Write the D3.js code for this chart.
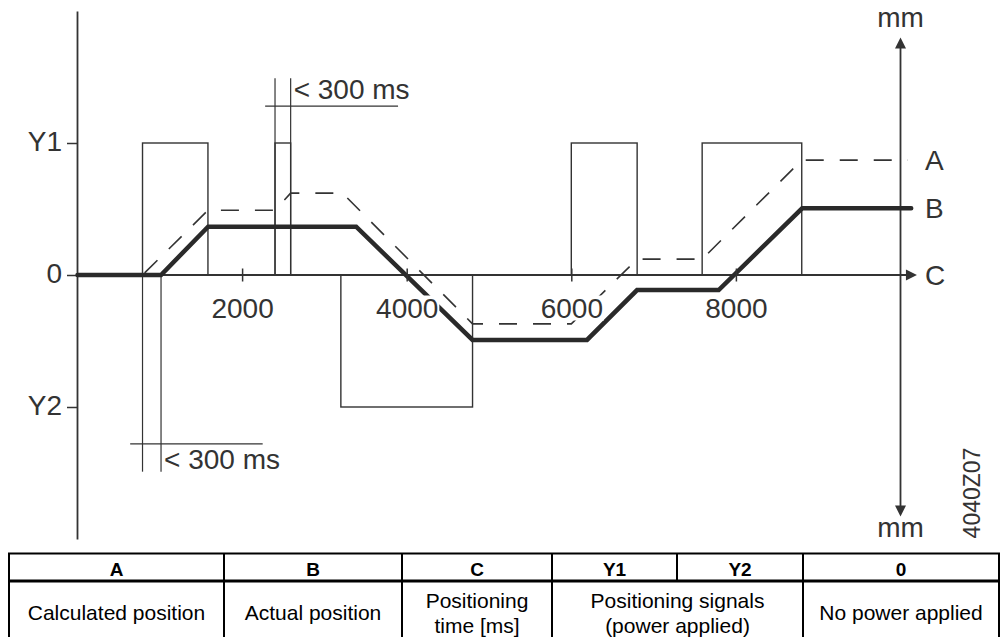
<!DOCTYPE html>
<html>
<head>
<meta charset="utf-8">
<script src="https://cdn.jsdelivr.net/npm/d3@7"></script>
<style>
  html, body { margin: 0; padding: 0; background: #fff; }
  svg { display: block; font-family: "Liberation Sans", Arial, sans-serif; }
</style>
</head>
<body>
<script>
// time axis (ms) and levels on the vertical axis
const timeTicks = [2000, 4000, 6000, 8000];
const levelTicks = [1, 0, -1];
const levelLabels = ["Y1", "0", "Y2"];

// positioning signal pulses (ms), level +1 = Y1, -1 = Y2
const pulseStart = [790, 2400, 3200, 6000, 7590];
const pulseEnd = [1585, 2590, 4800, 6800, 8800];
const pulseLevel = [1, 1, -1, 1, 1];

// A: calculated position (dashed)
const calcTime = [0, 790, 1585, 2400, 2590, 3220, 4800, 6000, 6800, 7590, 8800, 10090];
const calcPos = [0, 0, 0.49, 0.49, 0.62, 0.62, -0.37, -0.37, 0.12, 0.12, 0.87, 0.87];

// B: actual position (thick)
const actTime = [0, 1015, 1587, 3386, 4800, 6191, 6799, 7791, 8805, 10130];
const actPos = [0, 0, 0.366, 0.366, -0.492, -0.492, -0.114, -0.114, 0.505, 0.505];

// "< 300 ms" delay markers
const delayFrom = [790, 2400];
const delayTo = [1015, 2590];
const delayReach = [-1.49, 1.49];
const delayRule = [-1.28, 1.28];
const delayRuleFrom = [640, 2280];
const delayRuleTo = [2250, 3895];
const delayText = ["< 300 ms", "< 300 ms"];

// curve labels on the right
const curveNames = ["A", "B", "C"];
const curveLevels = [0.87, 0.505, 0];

// legend table
const tableKeys = ["A", "B", "C", "Y1", "Y2", "0"];
const tableTexts = [["Calculated position"], ["Actual position"], ["Positioning", "time [ms]"],
  ["Positioning signals", "(power applied)"], ["No power applied"]];
const tableSpans = [1, 1, 1, 2, 1];

const width = 1002, height = 637;
const ink = "#333", thick = "#2a2a2a";

const x = d3.scaleLinear().domain([0, 10000]).range([77.5, 900.5]);
const y = d3.scaleLinear().domain([-2, 2]).range([539, 11]);

const svg = d3.select("body").append("svg")
  .attr("width", width)
  .attr("height", height);

// pulses
svg.append("g")
  .selectAll("rect")
  .data(pulseStart)
  .join("rect")
  .attr("x", (d, i) => x(d))
  .attr("width", (d, i) => x(pulseEnd[i]) - x(d))
  .attr("y", (d, i) => Math.min(y(pulseLevel[i]), y(0)))
  .attr("height", (d, i) => Math.abs(y(pulseLevel[i]) - y(0)))
  .attr("fill", "none")
  .attr("stroke", ink)
  .attr("stroke-width", 1.4);

// delay markers
const marks = svg.append("g").attr("stroke", ink).attr("stroke-width", 1.2);
delayFrom.forEach((d, i) => {
  [d, delayTo[i]].forEach(t => {
    marks.append("line")
      .attr("x1", x(t)).attr("x2", x(t))
      .attr("y1", y(0)).attr("y2", y(delayReach[i]));
  });
  marks.append("line")
    .attr("x1", x(delayRuleFrom[i])).attr("x2", x(delayRuleTo[i]))
    .attr("y1", y(delayRule[i])).attr("y2", y(delayRule[i]));
  svg.append("text")
    .attr("x", x(delayTo[i]) + 3)
    .attr("y", y(delayRule[i]) + (delayReach[i] > 0 ? -7 : 25))
    .attr("font-size", 28)
    .attr("fill", ink)
    .text(delayText[i]);
});

// left axis
const gy = svg.append("g")
  .attr("transform", `translate(${x(0) - 0.5},0)`)
  .call(d3.axisLeft(y).tickValues(levelTicks)
    .tickFormat((d, i) => levelLabels[i])
    .tickSizeInner(10).tickSizeOuter(0).tickPadding(5));
gy.select(".domain").attr("stroke", ink).attr("stroke-width", 1.8);
gy.selectAll(".tick line").attr("stroke", ink).attr("stroke-width", 1.5);
gy.selectAll(".tick text")
  .attr("font-size", 28)
  .attr("font-family", "Liberation Sans, Arial, sans-serif")
  .attr("fill", ink)
  .attr("dy", "0.27em");

// time axis line with arrow
const axisY = y(0);
const cTip = x(10200);
svg.append("line")
  .attr("x1", x(0)).attr("x2", cTip - 8)
  .attr("y1", axisY).attr("y2", axisY)
  .attr("stroke", ink).attr("stroke-width", 1.8);
svg.append("path")
  .attr("d", `M${cTip},${axisY}L${cTip - 11},${axisY - 5.5}L${cTip - 11},${axisY + 5.5}Z`)
  .attr("fill", ink);

// right position axis (mm) with two arrows
const rx = x(10000);
const topTip = y(1.8), botTip = y(-1.83);
svg.append("line")
  .attr("x1", rx).attr("x2", rx)
  .attr("y1", topTip + 8).attr("y2", botTip - 8)
  .attr("stroke", ink).attr("stroke-width", 1.8);
svg.append("path")
  .attr("d", `M${rx},${topTip}L${rx - 5.5},${topTip + 11}L${rx + 5.5},${topTip + 11}Z`)
  .attr("fill", ink);
svg.append("path")
  .attr("d", `M${rx},${botTip}L${rx - 5.5},${botTip - 11}L${rx + 5.5},${botTip - 11}Z`)
  .attr("fill", ink);
svg.append("text").attr("x", rx).attr("y", topTip - 10)
  .attr("text-anchor", "middle").attr("font-size", 28).attr("fill", ink).text("mm");
svg.append("text").attr("x", rx).attr("y", botTip + 20)
  .attr("text-anchor", "middle").attr("font-size", 28).attr("fill", ink).text("mm");

// A: calculated position
const line = d3.line().x(d => x(d[0])).y(d => y(d[1]));
svg.append("path")
  .attr("d", line(calcTime.map((t, i) => [t, calcPos[i]])))
  .attr("fill", "none")
  .attr("stroke", ink)
  .attr("stroke-width", 1.6)
  .attr("stroke-dasharray", "18,16");

// B: actual position
svg.append("path")
  .attr("d", line(actTime.map((t, i) => [t, actPos[i]])))
  .attr("fill", "none")
  .attr("stroke", thick)
  .attr("stroke-width", 4.5)
  .attr("stroke-linecap", "round");

// time ticks and labels (white boxes behind the numbers)
const gx = svg.append("g")
  .attr("transform", `translate(0,${axisY - 0.5})`)
  .call(d3.axisBottom(x).tickValues(timeTicks).tickFormat(d3.format("d"))
    .tickSizeInner(7).tickSizeOuter(0));
gx.select(".domain").remove();
gx.selectAll(".tick line").attr("y1", -6).attr("stroke", ink).attr("stroke-width", 1.5);
gx.selectAll(".tick text")
  .attr("y", 43).attr("dy", 0)
  .attr("font-size", 28)
  .attr("font-family", "Liberation Sans, Arial, sans-serif")
  .attr("fill", ink);
gx.selectAll(".tick").each(function () {
  const t = d3.select(this).select("text");
  const b = t.node().getBBox();
  d3.select(this).insert("rect", "text")
    .attr("x", b.x - 1).attr("y", b.y + 3)
    .attr("width", b.width + 2).attr("height", b.height - 6)
    .attr("fill", "#fff");
});

// curve labels
svg.append("g")
  .selectAll("text")
  .data(curveNames)
  .join("text")
  .attr("x", 925)
  .attr("y", (d, i) => y(curveLevels[i]))
  .attr("dy", "0.36em")
  .attr("font-size", 28)
  .attr("fill", ink)
  .text(d => d);

// figure code
svg.append("text")
  .attr("transform", "translate(980,493) rotate(-90)")
  .attr("text-anchor", "middle")
  .attr("font-size", 23)
  .attr("fill", ink)
  .text("4040Z07");

// legend table
const cols = [9, 224, 402, 552, 677, 803, 999];
const tTop = 553.5, tSep = 581, tBot = 645;
const tg = svg.append("g").attr("stroke", "#000");
tg.append("rect")
  .attr("x", cols[0]).attr("y", tTop)
  .attr("width", cols[6] - cols[0]).attr("height", tBot - tTop)
  .attr("fill", "none").attr("stroke-width", 2);
tg.append("line").attr("x1", cols[0]).attr("x2", cols[6])
  .attr("y1", tSep).attr("y2", tSep).attr("stroke-width", 3.2);
cols.slice(1, 6).forEach(c => {
  tg.append("line").attr("x1", c).attr("x2", c)
    .attr("y1", tTop).attr("y2", tSep).attr("stroke-width", 2);
});
let ci = 0;
const spans = tableSpans.map(s => { const r = [ci, ci + s]; ci += s; return r; });
spans.slice(1).forEach(s => {
  tg.append("line").attr("x1", cols[s[0]]).attr("x2", cols[s[0]])
    .attr("y1", tSep).attr("y2", tBot).attr("stroke-width", 2);
});
svg.append("g")
  .selectAll("text")
  .data(tableKeys)
  .join("text")
  .attr("x", (d, i) => (cols[i] + cols[i + 1]) / 2)
  .attr("y", 576)
  .attr("text-anchor", "middle")
  .attr("font-size", 19)
  .attr("font-weight", "bold")
  .attr("fill", "#000")
  .text(d => d);
tableTexts.forEach((lines, i) => {
  const cx = (cols[spans[i][0]] + cols[spans[i][1]]) / 2;
  lines.forEach((s, j) => {
    svg.append("text")
      .attr("x", cx)
      .attr("y", 620 + (j - (lines.length - 1) / 2) * 25)
      .attr("text-anchor", "middle")
      .attr("font-size", 21)
      .attr("fill", "#000")
      .text(s);
  });
});
</script>
</body>
</html>
